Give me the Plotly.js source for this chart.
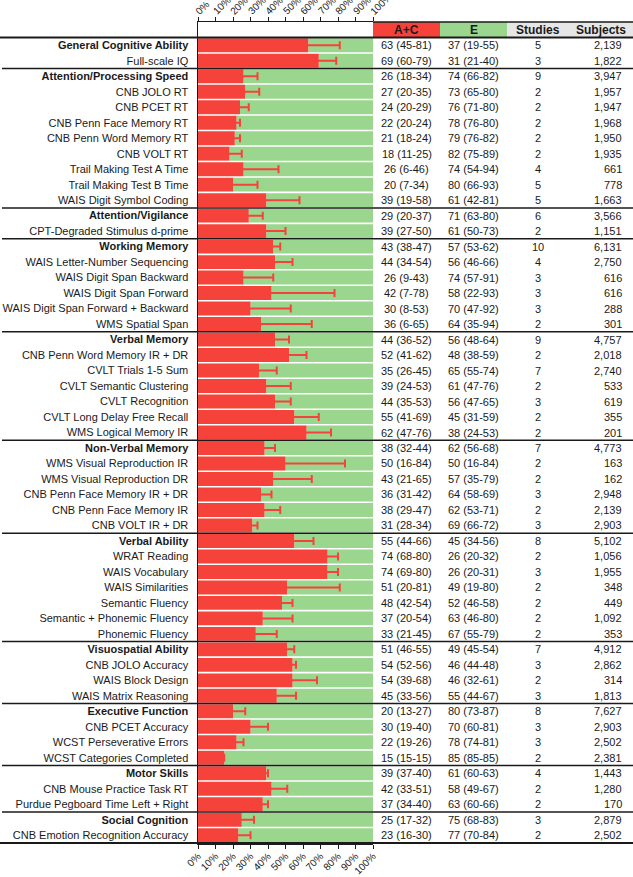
<!DOCTYPE html>
<html>
<head>
<meta charset="utf-8">
<script src="https://cdn.plot.ly/plotly-3.0.1.min.js"></script>
<style>
html,body{margin:0;padding:0;background:#fff;}
#chart{width:633px;height:877px;}
</style>
</head>
<body>
<div id="chart"></div>
<script>
const labels = [
  "General Cognitive Ability","Full-scale IQ",
  "Attention/Processing Speed","CNB JOLO RT","CNB PCET RT","CNB Penn Face Memory RT","CNB Penn Word Memory RT","CNB VOLT RT","Trail Making Test A Time","Trail Making Test B Time","WAIS Digit Symbol Coding",
  "Attention/Vigilance","CPT-Degraded Stimulus d-prime",
  "Working Memory","WAIS Letter-Number Sequencing","WAIS Digit Span Backward","WAIS Digit Span Forward","WAIS Digit Span Forward + Backward","WMS Spatial Span",
  "Verbal Memory","CNB Penn Word Memory IR + DR","CVLT Trials 1-5 Sum","CVLT Semantic Clustering","CVLT Recognition","CVLT Long Delay Free Recall","WMS Logical Memory IR",
  "Non-Verbal Memory","WMS Visual Reproduction IR","WMS Visual Reproduction DR","CNB Penn Face Memory IR + DR","CNB Penn Face Memory IR","CNB VOLT IR + DR",
  "Verbal Ability","WRAT Reading","WAIS Vocabulary","WAIS Similarities","Semantic Fluency","Semantic + Phonemic Fluency","Phonemic Fluency",
  "Visuospatial Ability","CNB JOLO Accuracy","WAIS Block Design","WAIS Matrix Reasoning",
  "Executive Function","CNB PCET Accuracy","WCST Perseverative Errors","WCST Categories Completed",
  "Motor Skills","CNB Mouse Practice Task RT","Purdue Pegboard Time Left + Right",
  "Social Cognition","CNB Emotion Recognition Accuracy"
];
const groupHeaders = ["General Cognitive Ability","Attention/Processing Speed","Attention/Vigilance","Working Memory","Verbal Memory","Non-Verbal Memory","Verbal Ability","Visuospatial Ability","Executive Function","Motor Skills","Social Cognition"];

const acVal = [63,69, 26,27,24,22,21,18,26,20,39, 29,39, 43,44,26,42,30,36, 44,52,35,39,44,55,62, 38,50,43,36,38,31, 55,74,74,51,48,37,33, 51,54,54,45, 20,30,22,15, 39,42,37, 25,23];
const acLo  = [45,60, 18,20,20,20,18,11,6,7,19, 20,27, 38,34,9,7,8,6, 36,41,26,24,35,41,47, 32,16,21,31,29,28, 44,68,69,20,42,20,21, 46,52,39,33, 13,19,19,15, 37,33,34, 17,16];
const acHi  = [81,79, 34,35,29,24,24,25,46,34,58, 37,50, 47,54,43,78,53,65, 52,62,45,53,53,69,76, 44,84,65,42,47,34, 66,80,80,81,54,54,45, 55,56,68,56, 27,40,26,15, 40,51,40, 32,30];
const eVal  = [37,31, 74,73,76,78,79,82,74,80,61, 71,61, 57,56,74,58,70,64, 56,48,65,61,56,45,38, 62,50,57,64,62,69, 45,26,26,49,52,63,67, 49,46,46,55, 80,70,78,85, 61,58,63, 75,77];
const eLo   = [19,21, 66,65,71,76,76,75,54,66,42, 63,50, 53,46,57,22,47,35, 48,38,55,47,47,31,24, 56,16,35,58,53,66, 34,20,20,19,46,46,55, 45,44,32,44, 73,60,74,85, 60,49,60, 68,70];
const eHi   = [55,40, 82,80,80,80,82,89,94,93,81, 80,73, 62,66,91,93,92,94, 64,59,74,76,65,59,53, 68,84,79,69,71,72, 56,32,31,80,58,80,79, 54,48,61,67, 87,81,81,85, 63,67,66, 83,84];
const studies = [5,3, 9,2,2,2,2,2,4,5,5, 6,2, 10,4,3,3,3,2, 9,2,7,2,3,2,2, 7,2,2,3,2,3, 8,2,3,2,2,2,2, 7,3,2,3, 8,3,3,2, 4,2,2, 3,2];
const subjects = [2139,1822, 3947,1957,1947,1968,1950,1935,661,778,1663, 3566,1151, 6131,2750,616,616,288,301, 4757,2018,2740,533,619,355,201, 4773,163,162,2948,2139,2903, 5102,1056,1955,348,449,1092,353, 4912,2862,314,1813, 7627,2903,2502,2381, 1443,1280,170, 2879,2502];
const colHeaders = ["A+C","E","Studies","Subjects"];
const tickVals = [0,10,20,30,40,50,60,70,80,90,100];
const tickText = ["0%","10%","20%","30%","40%","50%","60%","70%","80%","90%","100%"];

// ---- layout constants (pixels) ----
const W = 633, H = 877;
const PL = 198, PR = 373, PT = 22, PB = 843;
const PW = PR - PL;
const px = v => (v - PL) / PW;           // pixel x -> paper x
const RED = "#f5433b", GREEN = "#9bd68e", GRAY = "#e6e6e6", INK = "#1a1a1a";
const FONT = "Liberation Sans, Arial, Helvetica, sans-serif";

const rows = labels.map((_, i) => i);
const isGroup = labels.map(l => groupHeaders.includes(l));

const traces = [
  {
    type: "bar", orientation: "h", y: rows, x: eVal, base: acVal,
    marker: {color: GREEN, line: {width: 0}}, width: 0.9, hoverinfo: "skip", showlegend: false
  },
  {
    type: "bar", orientation: "h", y: rows, x: acVal,
    marker: {color: RED, line: {width: 0}}, width: 0.9, hoverinfo: "skip", showlegend: false,
    error_x: {
      type: "data", symmetric: false,
      array: acHi.map((h, i) => h - acVal[i]),
      arrayminus: acLo.map((l, i) => acVal[i] - l),
      color: RED, thickness: 2, width: 4
    }
  }
];

const shapes = [];
const annotations = [];
const fullX0 = px(0), fullX1 = px(W);

// header cells
shapes.push({type: "rect", xref: "paper", yref: "y", x0: px(373), x1: px(440), y0: -1.5, y1: -0.5, fillcolor: RED, line: {width: 0}, layer: "below"});
shapes.push({type: "rect", xref: "paper", yref: "y", x0: px(440), x1: px(507), y0: -1.5, y1: -0.5, fillcolor: GREEN, line: {width: 0}, layer: "below"});
shapes.push({type: "rect", xref: "paper", yref: "y", x0: px(507), x1: px(W), y0: -1.5, y1: -0.5, fillcolor: GRAY, line: {width: 0}, layer: "below"});
// top border over table header
shapes.push({type: "line", xref: "paper", yref: "paper", x0: 1, x1: fullX1, y0: 1, y1: 1, line: {color: INK, width: 1.5}});
// line under header
shapes.push({type: "line", xref: "paper", yref: "y", x0: fullX0, x1: fullX1, y0: -0.5, y1: -0.5, line: {color: INK, width: 2}});
// group separators
rows.forEach(r => {
  if (isGroup[r] && r > 0) {
    shapes.push({type: "line", xref: "paper", yref: "y", x0: px(2), x1: fullX1, y0: r - 0.5, y1: r - 0.5, line: {color: INK, width: 1.5}});
  }
});
// bottom line
shapes.push({type: "line", xref: "paper", yref: "paper", x0: fullX0, x1: fullX1, y0: 0, y1: 0, line: {color: INK, width: 2}});

// column headers
const hdrX = [406.5, 473.5, 538, 601];
colHeaders.forEach((t, i) => {
  annotations.push({xref: "paper", yref: "y", x: px(hdrX[i]), y: -1, text: "<b>" + t + "</b>", showarrow: false,
    xanchor: "center", yanchor: "middle", font: {family: FONT, size: 12, color: INK}});
});

// table cells
rows.forEach(r => {
  const cells = [
    {t: `${acVal[r]} (${acLo[r]}-${acHi[r]})`, x: 406.5, a: "center"},
    {t: `${eVal[r]} (${eLo[r]}-${eHi[r]})`, x: 473.5, a: "center"},
    {t: String(studies[r]), x: 538, a: "center"},
    {t: subjects[r].toLocaleString("en-US"), x: 624, a: "right"}
  ];
  cells.forEach(c => {
    annotations.push({xref: "paper", yref: "y", x: px(c.x), y: r, text: c.t, showarrow: false,
      xanchor: c.a, yanchor: "middle", font: {family: FONT, size: 11, color: INK}});
  });
});

// top tick labels (rotated), placed on the x data scale
tickVals.forEach((v, i) => {
  annotations.push({xref: "x", yref: "paper", x: v, y: 1, yshift: 4, xshift: -6, text: tickText[i],
    textangle: -45, showarrow: false, xanchor: "left", yanchor: "bottom", borderpad: 0,
    font: {family: FONT, size: 10, color: INK}});
});

const tickAxis = {
  range: [0, 100], tickmode: "array", tickvals: tickVals, ticktext: tickText,
  tickangle: -45, ticks: "outside", ticklen: 4, tickwidth: 1, tickcolor: INK,
  showline: true, linecolor: INK, linewidth: 1.5, showgrid: false, zeroline: false,
  tickfont: {family: FONT, size: 10, color: INK}, fixedrange: true
};

const layout = {
  width: W, height: H,
  margin: {l: PL, r: W - PR, t: PT, b: H - PB, pad: 0},
  paper_bgcolor: "#fff", plot_bgcolor: "#fff",
  barmode: "overlay",
  showlegend: false,
  font: {family: FONT, color: INK},
  xaxis: Object.assign({}, tickAxis, {side: "bottom", ticklabelstandoff: -2}),
  xaxis2: Object.assign({}, tickAxis, {side: "top", overlaying: "x", anchor: "y", showticklabels: false}),
  yaxis: {
    range: [51.5, -1.5], tickmode: "array", tickvals: rows,
    ticktext: labels.map((l, i) => isGroup[i] ? "<b>" + l + "</b>" : l),
    ticks: "", ticklabelstandoff: 6, showgrid: false, zeroline: false,
    showline: true, linecolor: INK, linewidth: 1.5,
    tickfont: {family: FONT, size: 11, color: INK}, fixedrange: true
  },
  shapes: shapes,
  annotations: annotations
};

// invisible trace so the top axis renders
traces.push({type: "scatter", x: [0], y: [0], xaxis: "x2", mode: "markers",
  marker: {size: 1, color: "rgba(0,0,0,0)"}, hoverinfo: "skip", showlegend: false});

Plotly.newPlot("chart", traces, layout, {staticPlot: true, displayModeBar: false});
</script>
</body>
</html>
